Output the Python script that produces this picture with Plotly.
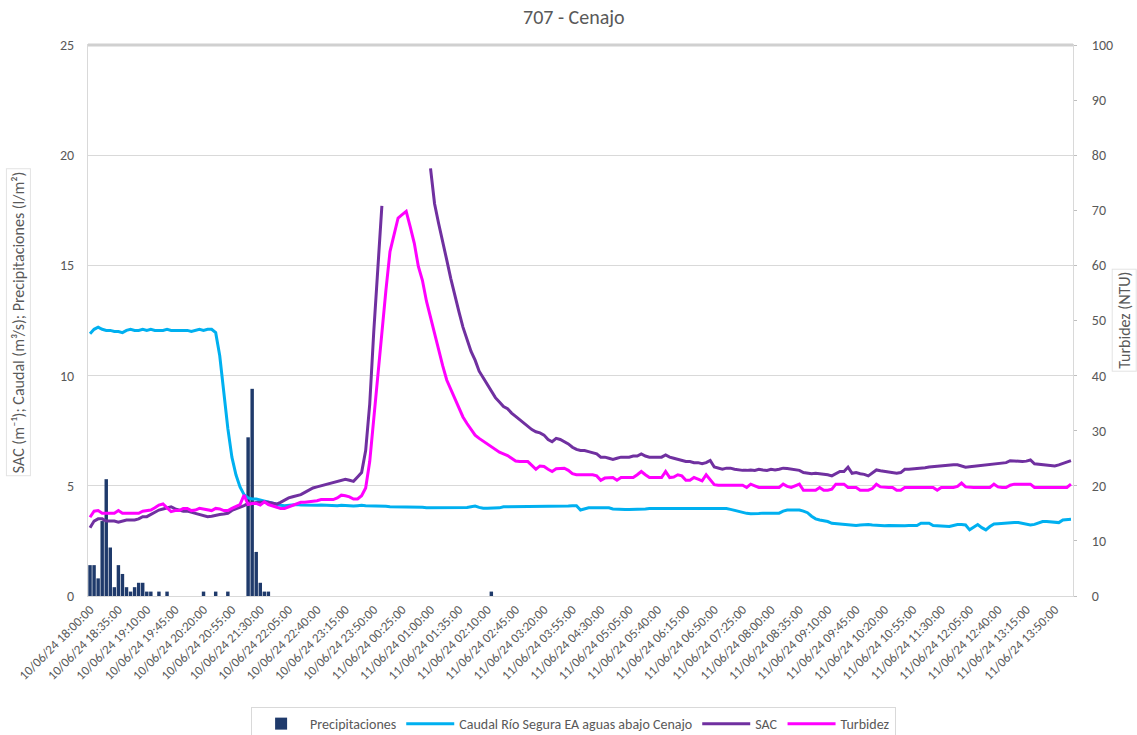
import pandas as pd
import plotly.graph_objects as go

# ---- categories (5-minute steps) ----
categories = [t.strftime("%d/%m/%y %H:%M:%S") for t in
              pd.date_range("2024-06-10 18:00:00", periods=243, freq="5min")]
tick_labels = categories[::7]

# ---- series values ----
precipitaciones = [
    1.4, 1.4, 0.8, 3.4, 5.3, 2.2, 0.4, 1.4, 1.0, 0.4,
    0.2, 0.4, 0.6, 0.6, 0.2, 0.2, 0, 0.2, 0, 0.2,
    0, 0, 0, 0, 0, 0, 0, 0, 0.2, 0,
    0, 0.2, 0, 0, 0.2, 0, 0, 0, 0, 7.2,
    9.4, 2.0, 0.6, 0.2, 0.2, 0, 0, 0, 0, 0,
    0, 0, 0, 0, 0, 0, 0, 0, 0, 0,
    0, 0, 0, 0, 0, 0, 0, 0, 0, 0,
    0, 0, 0, 0, 0, 0, 0, 0, 0, 0,
    0, 0, 0, 0, 0, 0, 0, 0, 0, 0,
    0, 0, 0, 0, 0, 0, 0, 0, 0, 0.2,
    0, 0, 0, 0, 0, 0, 0, 0, 0, 0,
    0, 0, 0, 0, 0, 0, 0, 0, 0, 0,
    0, 0, 0, 0, 0, 0, 0, 0, 0, 0,
    0, 0, 0, 0, 0, 0, 0, 0, 0, 0,
    0, 0, 0, 0, 0, 0, 0, 0, 0, 0,
    0, 0, 0, 0, 0, 0, 0, 0, 0, 0,
    0, 0, 0, 0, 0, 0, 0, 0, 0, 0,
    0, 0, 0, 0, 0, 0, 0, 0, 0, 0,
    0, 0, 0, 0, 0, 0, 0, 0, 0, 0,
    0, 0, 0, 0, 0, 0, 0, 0, 0, 0,
    0, 0, 0, 0, 0, 0, 0, 0, 0, 0,
    0, 0, 0, 0, 0, 0, 0, 0, 0, 0,
    0, 0, 0, 0, 0, 0, 0, 0, 0, 0,
    0, 0, 0, 0, 0, 0, 0, 0, 0, 0,
    0, 0, 0,
]

caudal = [
    11.9, 12.1, 12.2, 12.1, 12.05, 12.05, 12.0, 12.0, 11.95, 12.05,
    12.1, 12.05, 12.05, 12.1, 12.05, 12.1, 12.05, 12.05, 12.05, 12.1,
    12.05, 12.05, 12.05, 12.05, 12.05, 12.0, 12.05, 12.1, 12.05, 12.1,
    12.1, 11.95, 10.9, 9.3, 7.6, 6.3, 5.5, 4.95, 4.6, 4.45,
    4.4, 4.4, 4.35, 4.3, 4.25, 4.2, 4.15, 4.12, 4.1, 4.12,
    4.12, 4.15, 4.13, 4.12, 4.13, 4.12, 4.12, 4.13, 4.12, 4.1,
    4.1, 4.1, 4.12, 4.1, 4.1, 4.08, 4.1, 4.12, 4.1, 4.1,
    4.08, 4.1, 4.08, 4.07, 4.05, 4.05, 4.05, 4.05, 4.03, 4.03,
    4.03, 4.02, 4.03, 4.0, 4.0, 4.0, 4.02, 4.0, 4.0, 4.0,
    4.0, 4.0, 4.0, 4.02, 4.05, 4.08, 4.02, 3.98, 3.98, 3.98,
    3.98, 4.0, 4.05, 4.05, 4.05, 4.08, 4.05, 4.05, 4.05, 4.05,
    4.05, 4.05, 4.05, 4.08, 4.05, 4.05, 4.05, 4.08, 4.08, 4.1,
    4.1, 3.9, 3.95, 4.0, 4.0, 4.0, 4.0, 4.0, 4.0, 3.95,
    3.93, 3.93, 3.92, 3.93, 3.93, 3.92, 3.93, 3.95, 3.97, 3.97,
    3.97, 3.98, 3.97, 3.97, 3.98, 3.97, 3.97, 3.97, 3.95, 3.97,
    3.97, 3.97, 3.97, 3.98, 3.97, 3.97, 3.97, 3.97, 3.93, 3.88,
    3.83, 3.8, 3.75, 3.73, 3.72, 3.74, 3.76, 3.77, 3.77, 3.76,
    3.76, 3.85, 3.9, 3.9, 3.9, 3.9, 3.85, 3.78, 3.62, 3.5,
    3.45, 3.42, 3.38, 3.3, 3.28, 3.25, 3.24, 3.22, 3.22, 3.2,
    3.22, 3.24, 3.24, 3.22, 3.2, 3.19, 3.19, 3.2, 3.19, 3.19,
    3.19, 3.19, 3.2, 3.2, 3.2, 3.3, 3.3, 3.3, 3.2, 3.18,
    3.16, 3.15, 3.15, 3.2, 3.24, 3.24, 3.22, 3.0, 3.12, 3.24,
    3.1, 3.0, 3.15, 3.27, 3.28, 3.3, 3.3, 3.31, 3.33, 3.33,
    3.3, 3.26, 3.22, 3.25, 3.32, 3.38, 3.38, 3.36, 3.34, 3.33,
    3.45, 3.48, 3.48,
]

sac = [
    3.1, 3.4, 3.5, 3.5, 3.4, 3.4, 3.4, 3.35, 3.4, 3.45,
    3.45, 3.45, 3.5, 3.6, 3.6, 3.7, 3.8, 3.9, 3.95, 4.0,
    4.05, 3.95, 3.9, 3.85, 3.85, 3.8, 3.75, 3.7, 3.65, 3.6,
    3.62, 3.67, 3.7, 3.72, 3.75, 3.88, 3.95, 4.0, 4.1, 4.2,
    4.22, 4.25, 4.25, 4.27, 4.25, 4.2, 4.17, 4.25, 4.35, 4.45,
    4.5, 4.55, 4.6, 4.7, 4.8, 4.9, 4.95, 5.0, 5.05, 5.1,
    5.15, 5.2, 5.25, 5.3, 5.25, 5.2, 5.4, 5.6, 6.6, 8.7,
    12.0, 14.8, 17.7, None, None, None, None, None, None, None,
    None, None, None, None, 19.4, 17.8, 16.9, 16.0, 15.25, 14.4,
    13.6, 12.9, 12.2, 11.6, 11.1, 10.7, 10.2, 9.9, 9.6, 9.3,
    9.0, 8.8, 8.6, 8.5, 8.3, 8.15, 8.0, 7.85, 7.7, 7.55,
    7.45, 7.4, 7.3, 7.1, 7.0, 7.15, 7.1, 7.0, 6.9, 6.75,
    6.65, 6.6, 6.6, 6.55, 6.5, 6.45, 6.3, 6.3, 6.25, 6.2,
    6.25, 6.3, 6.3, 6.3, 6.35, 6.35, 6.45, 6.35, 6.3, 6.3,
    6.3, 6.3, 6.4, 6.3, 6.25, 6.2, 6.15, 6.1, 6.1, 6.05,
    6.05, 6.0, 6.05, 6.15, 5.85, 5.8, 5.75, 5.8, 5.8, 5.75,
    5.72, 5.7, 5.7, 5.72, 5.7, 5.75, 5.72, 5.7, 5.75, 5.72,
    5.75, 5.8, 5.78, 5.75, 5.72, 5.7, 5.6, 5.57, 5.55, 5.57,
    5.55, 5.55, 5.5, 5.45, 5.55, 5.65, 5.65, 5.85, 5.57, 5.6,
    5.55, 5.52, 5.45, 5.6, 5.72, 5.68, 5.65, 5.62, 5.6, 5.57,
    5.6, 5.75, 5.75, 5.76, 5.78, 5.8, 5.82, 5.85, 5.87, 5.88,
    5.9, 5.9, 5.92, 5.95, 5.95, 5.88, 5.84, 5.86, 5.88, 5.9,
    5.92, 5.95, 5.97, 6.0, 6.0, 6.02, 6.05, 6.14, 6.12, 6.1,
    6.1, 6.12, 6.17, 6.0, 5.98, 5.95, 5.94, 5.92, 5.9, 5.95,
    6.02, 6.08, 6.14,
]

turbidez = [
    14.3, 15.4, 15.5, 15.0, 15.0, 15.0, 15.0, 15.5, 15.0, 15.0,
    15.0, 15.0, 15.0, 15.4, 15.5, 15.6, 16.0, 16.5, 16.7, 16.0,
    15.3, 15.5, 15.5, 15.9, 15.9, 15.5, 15.6, 15.9, 15.8, 15.6,
    15.5, 15.9, 15.8, 15.5, 15.5, 15.9, 16.2, 16.6, 18.3, 16.6,
    16.8, 16.8, 16.5, 17.1, 16.6, 16.4, 16.2, 15.9, 15.9, 16.2,
    16.5, 16.8, 17.0, 17.0, 17.1, 17.1, 17.3, 17.5, 17.5, 17.5,
    17.5, 17.8, 18.3, 18.2, 18.0, 17.6, 17.6, 18.2, 19.6, 24.4,
    32.3, 40.0, 48.4, 55.5, 62.5, 65.5, 68.6, 69.2, 69.8, 67.0,
    64.0, 59.8, 57.3, 53.5, 50.5, 47.5, 44.5, 41.8, 39.2, 37.5,
    35.8, 34.2, 32.5, 31.3, 30.2, 29.2, 28.6, 28.1, 27.5, 27.0,
    26.5, 26.1, 25.8, 25.5, 25.0, 24.5, 24.4, 24.4, 24.4, 23.7,
    23.0, 23.6, 23.5, 23.0, 22.6, 23.1, 23.2, 23.2, 22.8, 22.2,
    22.0, 22.0, 22.0, 22.0, 22.0, 21.8, 21.0, 21.4, 21.5, 21.5,
    21.0, 21.5, 21.5, 21.5, 21.5, 22.0, 22.6, 22.0, 21.5, 21.5,
    21.5, 21.5, 22.6, 21.5, 21.6, 22.0, 21.8, 21.0, 21.0, 21.5,
    21.2, 20.9, 22.0, 21.0, 20.2, 20.1, 20.1, 20.1, 20.1, 20.1,
    20.1, 20.1, 19.7, 20.3, 20.0, 19.7, 19.7, 19.7, 19.7, 19.7,
    19.7, 20.3, 19.9, 19.7, 20.0, 20.3, 19.2, 19.2, 19.2, 19.2,
    19.7, 19.2, 19.2, 19.4, 20.3, 20.3, 20.3, 19.7, 19.7, 19.7,
    19.2, 19.2, 19.2, 19.5, 20.3, 19.8, 19.7, 19.7, 19.7, 19.2,
    19.2, 19.7, 19.7, 19.7, 19.7, 19.7, 19.7, 19.7, 19.7, 19.2,
    19.7, 19.7, 19.7, 19.7, 19.9, 20.5, 19.8, 19.7, 19.7, 19.7,
    19.7, 19.7, 19.7, 20.3, 19.8, 19.7, 19.7, 20.1, 20.3, 20.3,
    20.3, 20.3, 20.3, 19.7, 19.7, 19.7, 19.7, 19.7, 19.7, 19.7,
    19.7, 19.7, 20.3,
]

FONT = "Calibri, Carlito, 'Liberation Sans Narrow', 'Open Sans', sans-serif"
GREY = "#595959"
GRID = "#d9d9d9"

fig = go.Figure()
fig.add_trace(go.Bar(x=categories, y=precipitaciones, name="Precipitaciones",
                     marker=dict(color="#1F3A6B", line=dict(width=0)), yaxis="y"))
fig.add_trace(go.Scatter(x=categories, y=caudal, name="Caudal Río Segura EA aguas abajo Cenajo",
                         mode="lines", line=dict(color="#00B0F0", width=3), yaxis="y"))
fig.add_trace(go.Scatter(x=categories, y=sac, name="SAC", mode="lines",
                         line=dict(color="#7030A0", width=3), yaxis="y"))
fig.add_trace(go.Scatter(x=categories, y=turbidez, name="Turbidez", mode="lines",
                         line=dict(color="#FF00FF", width=3), yaxis="y2"))

fig.update_layout(
    width=1137, height=735,
    margin=dict(l=88, r=64, t=45, b=139, autoexpand=False),
    paper_bgcolor="white", plot_bgcolor="white",
    font=dict(family=FONT, color=GREY, size=14),
    bargap=0.15,
    showlegend=True,
    legend=dict(orientation="h", x=0.493, xanchor="center", y=-0.2015, yanchor="top",
                bordercolor=GRID, borderwidth=1, font=dict(size=14, color=GREY),
                itemwidth=48, traceorder="normal"),
    xaxis=dict(type="category", categoryorder="array", categoryarray=categories,
               range=[-0.5, len(categories) - 0.5], automargin=False,
               tickmode="array", tickvals=tick_labels, ticktext=tick_labels,
               tickangle=-45, tickfont=dict(size=13, color=GREY),
               showgrid=False, showline=True, linecolor=GRID, linewidth=1, mirror=True,
               ticks="", zeroline=False),
    yaxis=dict(range=[0, 25], dtick=5, showgrid=True, gridcolor=GRID, gridwidth=1,
               showline=True, linecolor=GRID, zeroline=False, automargin=False,
               tickfont=dict(size=14, color=GREY), ticks="", ticklabelstandoff=10),
    yaxis2=dict(range=[0, 100], dtick=10, overlaying="y", side="right",
                showgrid=False, showline=True, linecolor=GRID, zeroline=False,
                automargin=False,
                ticks="outside", ticklen=3, tickcolor="#bfbfbf",
                tickfont=dict(size=14, color=GREY), ticklabelstandoff=12),
)

# top border of plot area (thicker grey band)
fig.add_shape(type="line", xref="paper", yref="paper", x0=0, x1=1, y0=1, y1=1,
              line=dict(color="#d0d0d0", width=3))

# chart title
fig.add_annotation(text="707 - Cenajo", xref="paper", yref="paper", x=0.493, xanchor="center",
                   y=1.05, yanchor="middle", showarrow=False,
                   font=dict(size=20, color=GREY, family=FONT))

# axis titles as boxed annotations
fig.add_annotation(text="SAC (m⁻¹); Caudal (m³/s); Precipitaciones (l/m²)",
                   xref="paper", yref="paper", x=-0.071, xanchor="center", y=0.497, textangle=-90,
                   showarrow=False, font=dict(size=16, color=GREY, family=FONT),
                   bgcolor="white", bordercolor="#e3e3e3", borderwidth=1, borderpad=2)
fig.add_annotation(text="Turbidez (NTU)", xref="paper", yref="paper", x=1.052, xanchor="center",
                   y=0.5, textangle=-90, showarrow=False,
                   font=dict(size=16, color=GREY, family=FONT),
                   bgcolor="white", bordercolor="#e3e3e3", borderwidth=1, borderpad=2)

# remove the default 8 px page margin so the figure fills the window exactly
fig.write_html("out.html", config={"displayModeBar": False},
               post_script="document.body.style.margin='0px';document.body.style.overflow='hidden';")
